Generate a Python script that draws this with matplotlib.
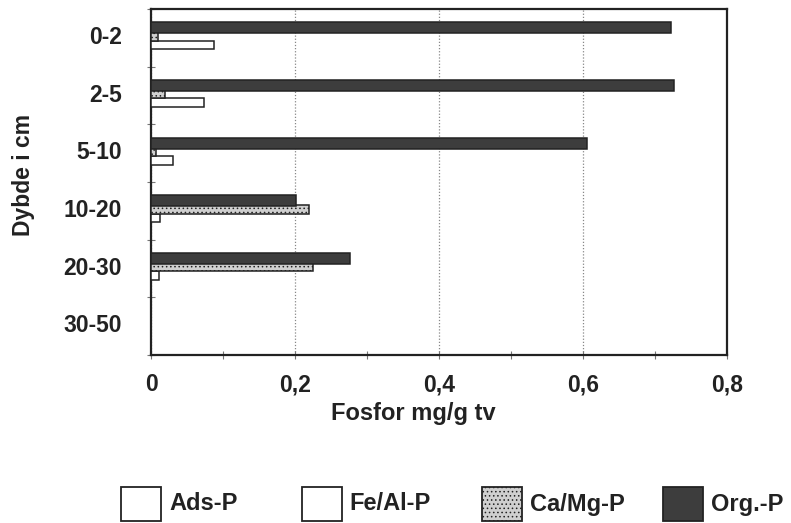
import numpy as np
import matplotlib
matplotlib.use('Agg')
import matplotlib.pyplot as plt
from matplotlib.patches import Rectangle
from matplotlib.ticker import FixedLocator, MultipleLocator, FuncFormatter

plt.rcParams['font.family'] = ['Liberation Sans', 'DejaVu Sans']
plt.rcParams['font.weight'] = 'bold'
plt.rcParams['hatch.color'] = '#8a8a8a'
plt.rcParams['hatch.linewidth'] = 0.6

# data (mg/g tv)
depths = ['0-2', '2-5', '5-10', '10-20', '20-30', '30-50']
ads_p = [0.0, 0.0, 0.0, 0.0, 0.0, 0.0]
feal_p = [0.088, 0.074, 0.031, 0.013, 0.011, 0.0]
camg_p = [0.010, 0.019, 0.007, 0.220, 0.225, 0.0]
org_p = [0.722, 0.726, 0.605, 0.202, 0.276, 0.0]

series = ['Ads-P', 'Fe/Al-P', 'Ca/Mg-P', 'Org.-P']
values = [ads_p, feal_p, camg_p, org_p]
fills = ['white', 'white', '#cfcfcf', '#3d3d3d']
hatches = [None, None, '....', None]
offsets = [0.27, 0.125, -0.025, -0.175]   # bar centre relative to category
heights = [0.15, 0.15, 0.15, 0.19]

fig = plt.figure(figsize=(7.91, 5.23), dpi=100)
ax = fig.add_axes([151 / 791, 1 - 355 / 523, 576 / 791, 346 / 523])

y = np.arange(len(depths))
for vals, fc, h, off, bh in zip(values, fills, hatches, offsets, heights):
    ax.barh(y + off, vals, height=bh, color=fc, edgecolor='#222222',
            linewidth=1.1, hatch=h, zorder=3)

ax.set_xlim(0, 0.8)
ax.set_ylim(5.5, -0.5)

ax.xaxis.set_major_locator(MultipleLocator(0.2))
ax.xaxis.set_minor_locator(MultipleLocator(0.1))
ax.xaxis.set_major_formatter(FuncFormatter(lambda v, p: '0' if v == 0 else f'{v:.1f}'.replace('.', ',')))
ax.set_yticks(y - 0.05)
ax.set_yticklabels(depths)
ax.yaxis.set_minor_locator(FixedLocator(np.arange(-0.5, 6, 1)))

ax.tick_params(axis='x', which='both', direction='inout', length=6, width=0.8,
               color='#777777', labelsize=16.5, labelcolor='#222222', pad=10)
ax.tick_params(axis='y', which='major', length=0, labelsize=16.5,
               labelcolor='#222222', pad=21)
ax.tick_params(axis='y', which='minor', direction='inout', length=6, width=0.8,
               color='#777777')

ax.grid(axis='x', which='major', linestyle=(0, (1, 1.5)), color='#888888',
        linewidth=0.9, zorder=1)
for s in ax.spines.values():
    s.set_linewidth(1.6)
    s.set_color('#222222')

ax.set_xlabel('Fosfor mg/g tv', fontsize=17, fontweight='bold', color='#222222')
ax.xaxis.set_label_coords((413 - 151) / 576, -0.135)
ax.set_ylabel('Dybde i cm', fontsize=16.5, fontweight='bold', color='#222222')
ax.yaxis.set_label_coords((35 - 151) / 576, 0.52)

# legend row at the bottom
W, H = 791, 523
for i, (name, fc, h) in enumerate(zip(series, fills, hatches)):
    x0 = 121 + i * 180.5
    fig.add_artist(Rectangle((x0 / W, 1 - 521 / H), 40 / W, 34 / H,
                             transform=fig.transFigure, facecolor=fc,
                             edgecolor='#222222', linewidth=1.3, hatch=h))
    fig.text((x0 + 48) / W, 1 - 504 / H, name, fontsize=17,
             fontweight='bold', color='#222222', va='center', ha='left')

fig.savefig('out.png', dpi=100)
